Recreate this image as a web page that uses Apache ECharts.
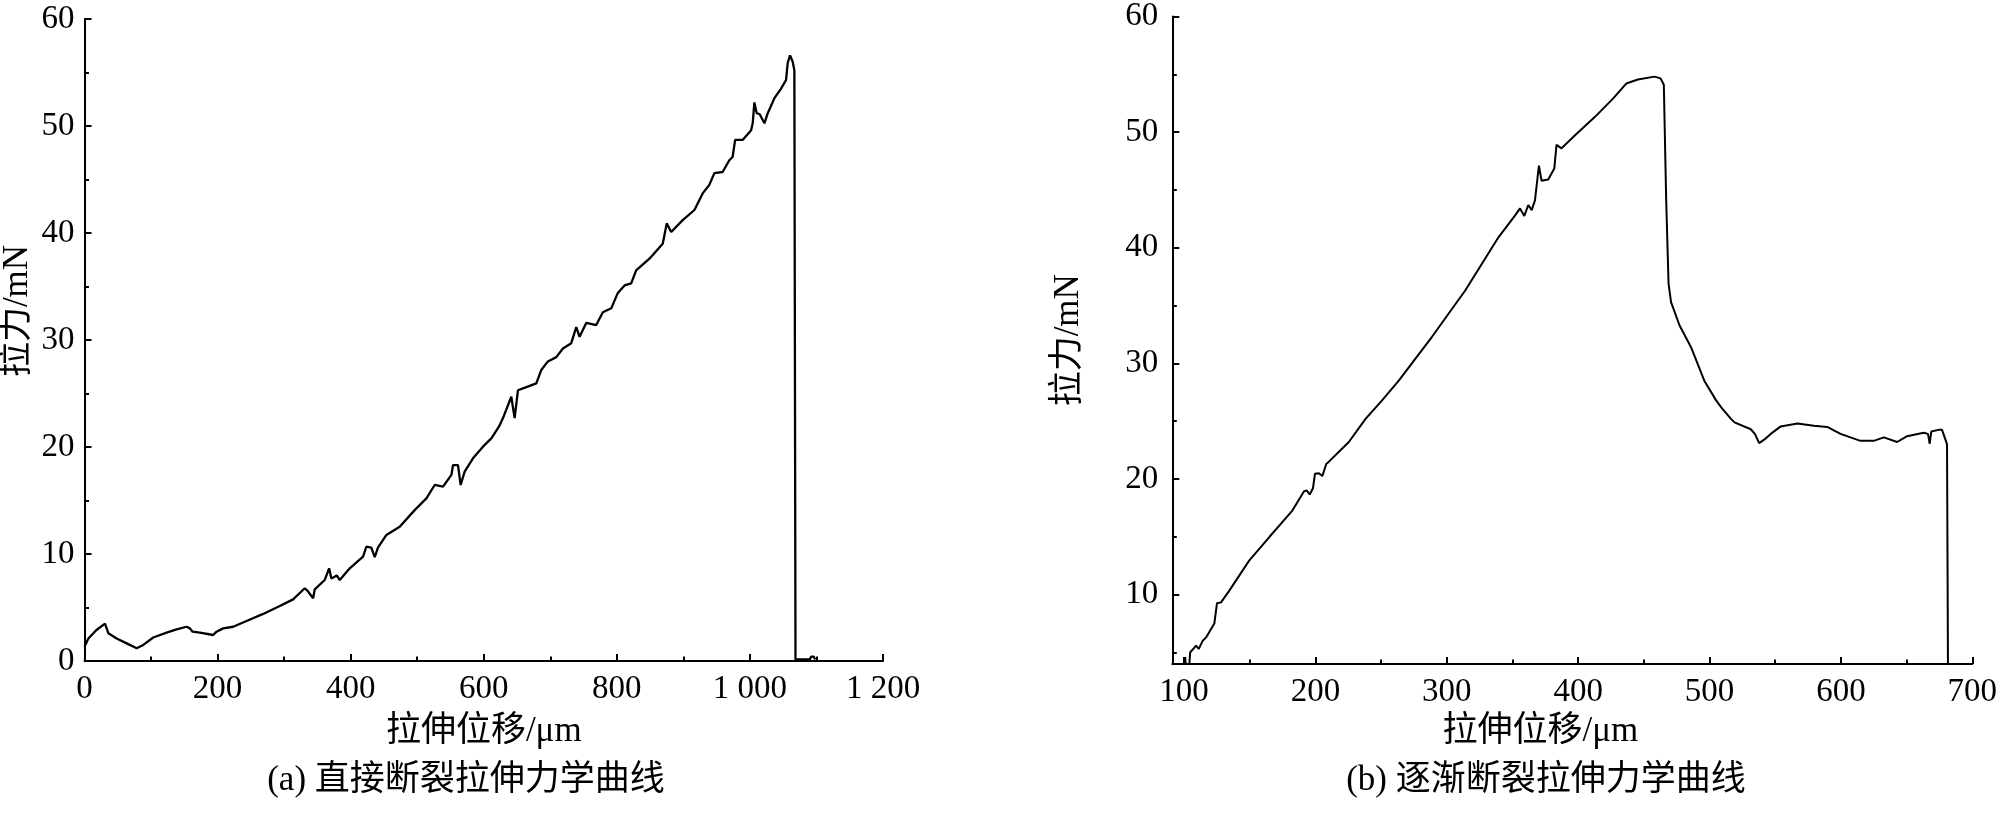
<!DOCTYPE html>
<html>
<head>
<meta charset="utf-8">
<script src="https://cdn.jsdelivr.net/npm/echarts@6/dist/echarts.min.js"></script>
<style>
  html, body { margin: 0; padding: 0; background: #fff; }
  #chart { width: 2000px; height: 819px; }
</style>
</head>
<body>
<div id="chart"></div>
<script>
// (a) direct fracture
const dispA = [0, 5.8, 18, 30.8, 33, 35.8, 48.3, 63.4, 78.4, 88.3, 103.3, 123.4, 138.4, 153.4, 158.4, 162.4, 173.4, 193.4, 198.4, 208.4, 223.4, 243.5, 268.5, 293.5, 313.5, 331, 336, 343.6, 346, 361, 367.6, 371, 379, 383.6, 398.6, 418.6, 423.7, 431, 436.2, 441, 453.7, 473.7, 496.2, 513.8, 526.3, 538.8, 551.4, 553.8, 561.3, 565.3, 571.3, 583.8, 598.8, 611.4, 622.8, 628.9, 641.4, 646.4, 651.4, 664, 679, 686.5, 696.4, 709, 719, 731.5, 739, 744, 754, 769, 779, 791.6, 801.5, 811.6, 821.6, 829, 849, 869, 875, 881.7, 899, 916.6, 929, 939, 946.6, 959, 969, 974, 977.8, 989, 1001.8, 1004.2, 1006.7, 1010.2, 1014.7, 1021.8, 1026.8, 1036.8, 1046.8, 1054.3, 1056.8, 1060.3, 1064.3, 1066.8, 1068.5, 1080, 1090, 1092, 1096, 1098]
const forceA = [1.34, 2.1, 2.9, 3.5, 3.55, 2.6, 2.1, 1.65, 1.19, 1.5, 2.2, 2.65, 2.96, 3.2, 3.05, 2.74, 2.65, 2.43, 2.74, 3.05, 3.2, 3.74, 4.4, 5.14, 5.76, 6.8, 6.5, 5.86, 6.7, 7.57, 8.66, 7.7, 8.0, 7.57, 8.66, 9.75, 10.7, 10.6, 9.7, 10.6, 11.78, 12.55, 14.1, 15.2, 16.45, 16.3, 17.4, 18.3, 18.3, 16.45, 17.7, 18.94, 20.03, 20.8, 21.9, 22.7, 24.7, 22.7, 25.3, 25.6, 25.95, 27.2, 28.0, 28.4, 29.2, 29.7, 31.2, 30.3, 31.6, 31.4, 32.6, 32.96, 34.4, 35.1, 35.3, 36.5, 37.6, 39.0, 40.9, 40.1, 41.2, 42.15, 43.7, 44.5, 45.6, 45.7, 46.8, 47.1, 48.7, 48.7, 49.6, 50.25, 52.2, 51.2, 51.1, 50.25, 51.2, 52.6, 53.5, 54.3, 55.9, 56.6, 56.0, 55.2, 0.15, 0.15, 0.15, 0.4, 0.4, 0.15]

// (b) gradual fracture
const dispB = [100.8, 100.8, 101.2, 104, 104.6, 105.3, 109.1, 111.1, 114.1, 116.7, 118, 123, 124.3, 125, 128.1, 134.4, 149.5, 164.7, 182.4, 191.3, 193.4, 195.6, 198.1, 199.6, 202.6, 205.2, 208.2, 210.2, 225.4, 238.1, 250.7, 263.4, 288.7, 314, 339.3, 352, 355.7, 359, 362, 364.6, 367.1, 370.1, 372.1, 377.2, 381.8, 383.5, 387.3, 397.4, 412.6, 426.5, 436.6, 445.5, 458.1, 462.7, 465.2, 467, 468.8, 470.7, 477.1, 485.9, 496, 505, 508.9, 516.3, 519, 531.4, 534.5, 537.8, 541.6, 546.6, 554.2, 566.9, 579.5, 589.6, 599.7, 607.3, 614.9, 625, 632.7, 642.8, 650.4, 663, 666.3, 667.6, 668.8, 674.4, 677, 679.6, 680.8, 681.5]
const forceB = [4.0, 4.6, 4.0, 4.0, 5.0, 5.1, 5.58, 5.3, 6.0, 6.3, 6.25, 7.5, 7.6, 9.25, 9.33, 10.35, 12.94, 14.96, 17.27, 18.94, 19.0, 18.66, 19.2, 20.45, 20.5, 20.25, 21.3, 21.5, 23.2, 25.2, 26.8, 28.5, 32.3, 36.3, 40.9, 42.8, 43.4, 42.75, 43.7, 43.25, 44.1, 47.1, 45.8, 45.9, 46.85, 48.9, 48.6, 49.7, 51.3, 52.9, 54.2, 54.55, 54.8, 54.65, 54.1, 44.1, 36.9, 35.3, 33.3, 31.4, 28.5, 26.8, 26.2, 25.2, 24.9, 24.3, 23.9, 23.1, 23.4, 23.9, 24.55, 24.8, 24.6, 24.5, 23.9, 23.6, 23.3, 23.3, 23.6, 23.2, 23.7, 24.0, 23.9, 23.05, 24.1, 24.25, 24.25, 23.4, 23.0, 4.0]

const xTicksB = [100, 200, 300, 400, 500, 600, 700]
const xMinorB = [150, 250, 350, 450, 550, 650]
const yTicksB = [10, 20, 30, 40, 50, 60]
const yMinorB = [5, 15, 25, 35, 45, 55]

const xNameText = '拉伸位移/μm'
const yNameText = '拉力/mN'
const captionA = '(a) 直接断裂拉伸力学曲线'
const captionB = '(b) 逐渐断裂拉伸力学曲线'

const FONT = '"Liberation Serif", "Noto Sans CJK SC", serif'
const zip = (xs, ys) => xs.map((x, i) => [x, ys[i]])

const axisLineStyle = { lineStyle: { color: '#000', width: 2 } }
const labelStyle = { color: '#000', fontSize: 33, fontFamily: FONT }
const nameStyle = { color: '#000', fontSize: 35, fontFamily: FONT }

const chart = echarts.init(document.getElementById('chart'))
chart.setOption({
  backgroundColor: '#fff',
  animation: false,
  grid: [
    { left: 84.5, right: 1117, top: 19, bottom: 158 },
    { left: 1172.3, right: 23.5, top: 16.3, bottom: 155 }
  ],
  xAxis: [
    {
      gridIndex: 0,
      type: 'value',
      min: 0,
      max: 1200,
      interval: 200,
      position: 'bottom',
      axisLine: axisLineStyle,
      axisTick: { inside: true, length: 7, lineStyle: { color: '#000', width: 2 } },
      minorTick: { show: true, splitNumber: 2, length: 4.5, lineStyle: { color: '#000', width: 2 } },
      splitLine: { show: false },
      axisLabel: Object.assign({ margin: 12, formatter: v => v >= 1000 ? String(v).replace(/^(\d)/, '$1 ') : v }, labelStyle),
      name: xNameText,
      nameLocation: 'middle',
      nameGap: 53,
      nameTextStyle: nameStyle
    },
    {
      gridIndex: 1,
      type: 'value',
      min: 91,
      max: 700,
      position: 'bottom',
      axisLine: axisLineStyle,
      axisTick: { inside: true, length: 7, customValues: xTicksB, lineStyle: { color: '#000', width: 2 } },
      splitLine: { show: false },
      axisLabel: Object.assign({ margin: 12, customValues: xTicksB }, labelStyle),
      name: xNameText,
      nameLocation: 'middle',
      nameGap: 50,
      nameTextStyle: Object.assign({ padding: [0, 64, 0, 0] }, nameStyle)
    },
    {
      // minor ticks for (b)
      gridIndex: 1,
      type: 'value',
      min: 91,
      max: 700,
      position: 'bottom',
      axisLine: { show: false },
      axisTick: { inside: true, length: 4.5, customValues: xMinorB, lineStyle: { color: '#000', width: 2 } },
      axisLabel: { show: false },
      splitLine: { show: false }
    }
  ],
  yAxis: [
    {
      gridIndex: 0,
      type: 'value',
      min: 0,
      max: 60,
      interval: 10,
      position: 'left',
      axisLine: { show: true, lineStyle: { color: '#000', width: 2 } },
      axisTick: { show: true, inside: true, length: 7, lineStyle: { color: '#000', width: 2 } },
      minorTick: { show: true, splitNumber: 2, length: 4.5, lineStyle: { color: '#000', width: 2 } },
      splitLine: { show: false },
      axisLabel: Object.assign({ margin: 10 }, labelStyle)
    },
    {
      gridIndex: 1,
      type: 'value',
      min: 4,
      max: 60,
      position: 'left',
      axisLine: { show: true, lineStyle: { color: '#000', width: 2 } },
      axisTick: { show: true, inside: true, length: 7, customValues: yTicksB, lineStyle: { color: '#000', width: 2 } },
      splitLine: { show: false },
      axisLabel: Object.assign({ margin: 14, customValues: yTicksB }, labelStyle),
      name: yNameText,
      nameLocation: 'middle',
      nameRotate: 90,
      nameGap: 86,
      nameTextStyle: nameStyle
    },
    {
      gridIndex: 1,
      type: 'value',
      min: 4,
      max: 60,
      position: 'left',
      axisLine: { show: false },
      axisTick: { show: true, inside: true, length: 4.5, customValues: yMinorB, lineStyle: { color: '#000', width: 2 } },
      axisLabel: { show: false },
      splitLine: { show: false }
    }
  ],
  series: [
    {
      type: 'line',
      xAxisIndex: 0,
      yAxisIndex: 0,
      data: zip(dispA, forceA),
      showSymbol: false,
      lineStyle: { color: '#000', width: 2.3 },
      clip: true
    },
    {
      type: 'line',
      xAxisIndex: 1,
      yAxisIndex: 1,
      data: zip(dispB, forceB),
      showSymbol: false,
      lineStyle: { color: '#000', width: 2 },
      clip: true
    }
  ],
  graphic: [
    {
      // y name of (a) sits above the axis middle in the original
      type: 'text',
      x: 18,
      y: 311,
      rotation: Math.PI / 2,
      style: { text: yNameText, fill: '#000', font: '35px ' + FONT, textAlign: 'center', textVerticalAlign: 'middle' }
    },
    {
      type: 'text',
      x: 466,
      y: 781,
      style: { text: captionA, fill: '#000', font: '35px ' + FONT, textAlign: 'center', textVerticalAlign: 'middle' }
    },
    {
      type: 'text',
      x: 1546,
      y: 781,
      style: { text: captionB, fill: '#000', font: '35px ' + FONT, textAlign: 'center', textVerticalAlign: 'middle' }
    }
  ]
})
</script>
</body>
</html>
